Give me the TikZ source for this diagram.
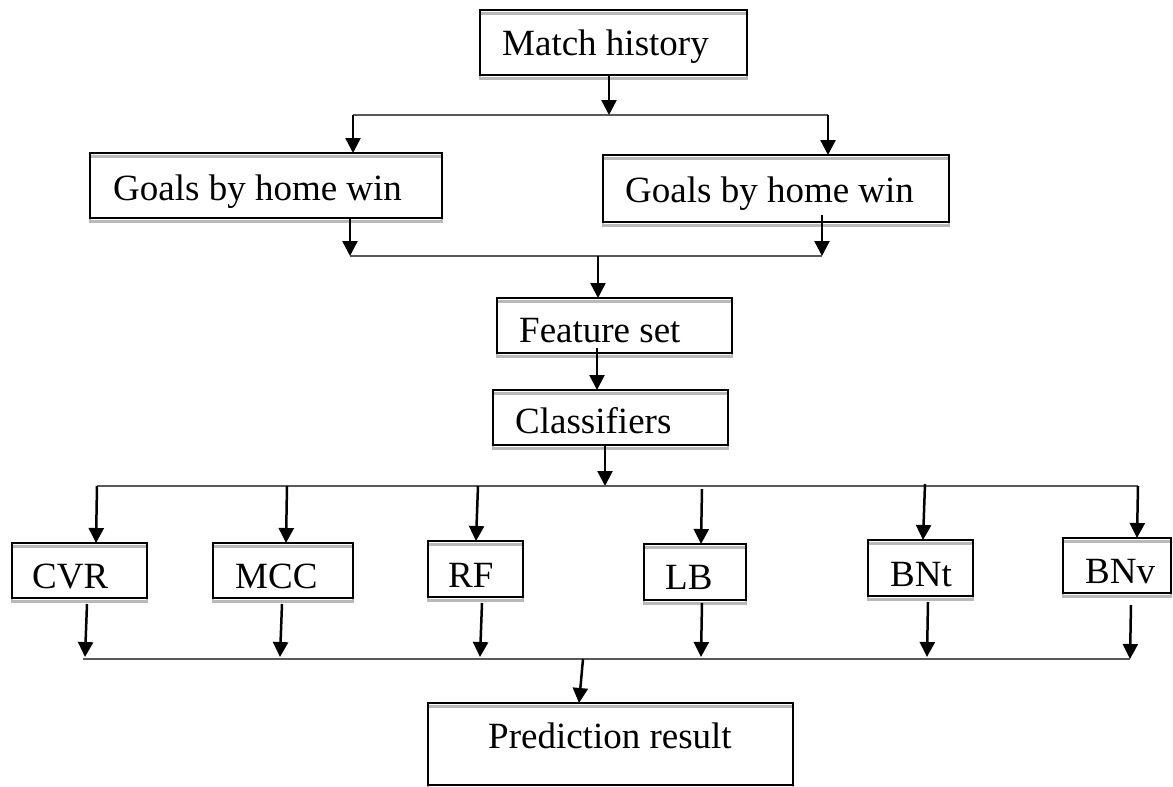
\documentclass[tikz,border=0pt]{standalone}
\usepackage{fontspec}
\setmainfont{Liberation Serif}
\usetikzlibrary{arrows.meta}
\tikzset{
  box/.style={draw=black, line width=2.6pt, inner sep=0pt, outer sep=0pt, anchor=north west,
    preaction={draw=gray!55, line width=2.2pt, transform canvas={yshift=-3.5pt}}},
  lbl/.style={anchor=base west, inner sep=0pt, font=\fontsize{37}{40}\selectfont},
  arr/.style={draw=black, line width=2.5pt, -{Triangle[length=15pt,width=15pt]}},
  bus/.style={draw=black!65, line width=1.8pt}
}
\begin{document}
\begin{tikzpicture}[x=1pt,y=-1pt]
\useasboundingbox (0,0) rectangle (1173,787);
% boxes
\node[box, minimum width=267, minimum height=65] (mh) at (480,10) {};
\node[lbl] (mht) at (502,55) {Match history};
\node[box, minimum width=352, minimum height=65] (gl) at (90,153) {};
\node[lbl] (glt) at (113,200) {Goals by home win};
\node[box, minimum width=346, minimum height=67] (gr) at (603,155) {};
\node[lbl] (grt) at (625,202) {Goals by home win};
\node[box, minimum width=235, minimum height=55] (fs) at (497,298) {};
\node[lbl] (fst) at (519,342) {Feature set};
\node[box, minimum width=235, minimum height=55] (cl) at (493,390) {};
\node[lbl] (clt) at (515,433) {Classifiers};
\node[box, minimum width=135, minimum height=55] (cvr) at (12,543) {};
\node[lbl] (cvrt) at (32,588) {CVR};
\node[box, minimum width=140, minimum height=55] (mcc) at (213,543) {};
\node[lbl] (mcct) at (235,588) {MCC};
\node[box, minimum width=95, minimum height=56] (rf) at (428,541) {};
\node[lbl] (rft) at (448,587) {RF};
\node[box, minimum width=102, minimum height=56] (lb) at (644,544) {};
\node[lbl] (lbt) at (665,589) {LB};
\node[box, minimum width=105, minimum height=56] (bnt) at (868,540) {};
\node[lbl] (bntt) at (890,586) {BNt};
\node[box, minimum width=108, minimum height=55] (bnv) at (1063,538) {};
\node[lbl] (bnvt) at (1085,583) {BNv};
\node[box, minimum width=365, minimum height=82] (pr) at (428,703) {};
\node[lbl] (prt) at (488,748) {Prediction result};
% bus coordinates
\coordinate (b1l) at (353,115); \coordinate (b1r) at (828,115);
\coordinate (b2l) at (350,256); \coordinate (b2r) at (822,256);
\coordinate (b3l) at (97,486);  \coordinate (b3r) at (1138,486);
\coordinate (b4l) at (83,659);  \coordinate (b4r) at (1130,659);
% buses
\draw[bus] (b1l) -- (b1r);
\draw[bus] (b2l) -- (b2r);
\draw[bus] (b3l) -- (b3r);
\draw[bus] (b4l) -- (b4r);
% arrows
\draw[arr] (mh.south -| 609,0) -- (609,115);
\draw[arr] (b1l) -- (b1l |- gl.north);
\draw[arr] (b1r) -- (b1r |- gr.north);
\draw[arr] (gl.south -| b2l) -- (b2l);
\draw[arr] ([yshift=7pt]gr.south -| b2r) -- (b2r);
\draw[arr] (598,256) -- (598,0 |- fs.north);
\draw[arr] ([yshift=5pt]fs.south -| 597,0) -- (597,0 |- cl.north);
\draw[arr] (cl.south -| 605,0) -- (605,486);
\draw[arr] (b3l) -- (96,0 |- cvr.north);
\draw[arr] (287,486) -- (286,0 |- mcc.north);
\draw[arr] (478,486) -- (476,0 |- rf.north);
\draw[arr] (702,489) -- (701,0 |- lb.north);
\draw[arr] (925,484) -- (923,0 |- bnt.north);
\draw[arr] (b3r) -- (1137,0 |- bnv.north);
\draw[arr] ([yshift=-6pt]cvr.south -| 87,0) -- (85,657);
\draw[arr] ([yshift=-6pt]mcc.south -| 282,0) -- (280,657);
\draw[arr] ([yshift=-6pt]rf.south -| 482,0) -- (480,657);
\draw[arr] ([yshift=-3pt]lb.south -| 702,0) -- (701,657);
\draw[arr] ([yshift=-6pt]bnt.south -| 928,0) -- (927,657);
\draw[arr] ([yshift=-12pt]bnv.south -| 1131,0) -- (b4r);
\draw[arr] (583,659) -- (579,0 |- pr.north);
\end{tikzpicture}
\end{document}
